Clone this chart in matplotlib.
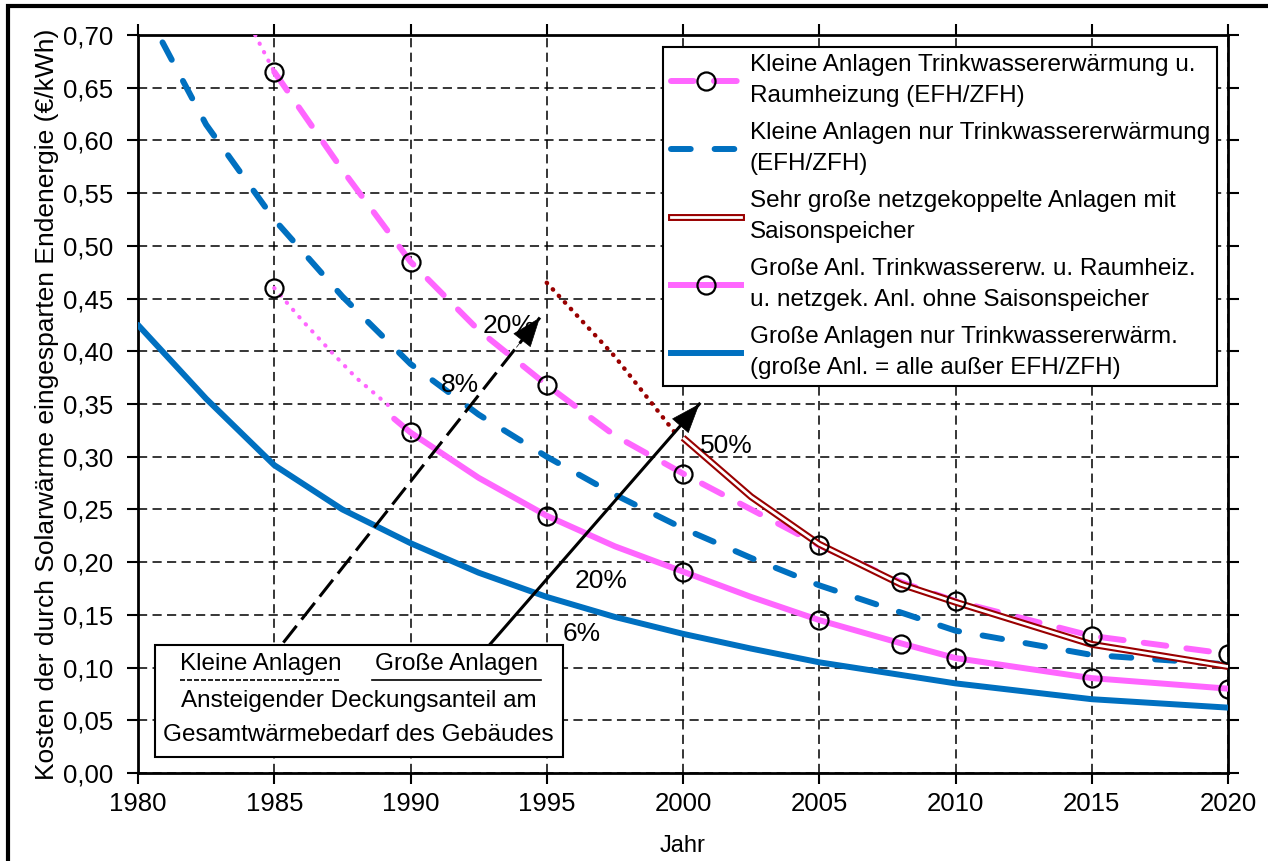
import matplotlib
matplotlib.use("Agg")
import matplotlib.pyplot as plt
from matplotlib.lines import Line2D
from matplotlib.patches import Rectangle
from matplotlib.legend_handler import HandlerTuple

plt.rcParams['font.family'] = ['Liberation Sans', 'DejaVu Sans']

# ---------------- data ----------------
# Kleine Anlagen Trinkwassererwärmung u. Raumheizung (pink dashed)
kl_tw_rh_dot_x = [1984.3, 1984.6, 1985.0]
kl_tw_rh_dot_y = [0.700, 0.685, 0.665]
kl_tw_rh_x = [1985, 1987.5, 1990, 1992.5, 1995, 1997.5, 2000, 2002.5, 2005, 2008, 2010, 2015, 2020]
kl_tw_rh_y = [0.665, 0.572, 0.485, 0.420, 0.368, 0.320, 0.284, 0.250, 0.216, 0.181, 0.163, 0.130, 0.113]
kl_tw_rh_mark_x = [1985, 1990, 1995, 2000, 2005, 2008, 2010, 2015, 2020]
kl_tw_rh_mark_y = [0.665, 0.485, 0.368, 0.284, 0.216, 0.181, 0.163, 0.130, 0.113]

# Kleine Anlagen nur Trinkwassererwärmung (blue dashed)
kl_tw_x = [1980.9, 1982.5, 1985, 1987.5, 1990, 1992.5, 1995, 1997.5, 2000, 2002.5, 2005, 2010, 2015, 2020]
kl_tw_y = [0.693, 0.615, 0.525, 0.452, 0.388, 0.340, 0.300, 0.264, 0.232, 0.204, 0.178, 0.135, 0.112, 0.103]

# Sehr große netzgekoppelte Anlagen mit Saisonspeicher (dark red)
sg_dot_x = [1995, 1997.5, 1999.7]
sg_dot_y = [0.465, 0.395, 0.323]
sg_x = [2000, 2002.5, 2005, 2008, 2010, 2015, 2020]
sg_y = [0.318, 0.262, 0.217, 0.179, 0.162, 0.122, 0.101]

# Große Anl. Trinkwassererw. u. Raumheiz. (pink solid)
gr_tw_rh_dot_x = [1985, 1986, 1987, 1988, 1989.4]
gr_tw_rh_dot_y = [0.460, 0.430, 0.402, 0.375, 0.344]
gr_tw_rh_x = [1989.4, 1990, 1992.5, 1995, 1997.5, 2000, 2002.5, 2005, 2008, 2010, 2015, 2020]
gr_tw_rh_y = [0.336, 0.323, 0.280, 0.244, 0.215, 0.191, 0.167, 0.145, 0.123, 0.109, 0.090, 0.080]
gr_tw_rh_mark_x = [1985, 1990, 1995, 2000, 2005, 2008, 2010, 2015, 2020]
gr_tw_rh_mark_y = [0.460, 0.323, 0.244, 0.191, 0.145, 0.122, 0.109, 0.090, 0.080]

# Große Anlagen nur Trinkwassererwärm. (blue solid)
gr_tw_x = [1980, 1982.5, 1985, 1987.5, 1990, 1992.5, 1995, 1997.5, 2000, 2002.5, 2005, 2010, 2015, 2020]
gr_tw_y = [0.425, 0.355, 0.292, 0.250, 0.218, 0.190, 0.167, 0.148, 0.132, 0.118, 0.105, 0.085, 0.070, 0.062]

x_ticks = [1980, 1985, 1990, 1995, 2000, 2005, 2010, 2015, 2020]
y_ticks = [0.00, 0.05, 0.10, 0.15, 0.20, 0.25, 0.30, 0.35, 0.40, 0.45, 0.50, 0.55, 0.60, 0.65, 0.70]
y_ticklabels = ['0,00', '0,05', '0,10', '0,15', '0,20', '0,25', '0,30', '0,35',
                '0,40', '0,45', '0,50', '0,55', '0,60', '0,65', '0,70']

legend_labels = [
    'Kleine Anlagen Trinkwassererwärmung u.\nRaumheizung (EFH/ZFH)',
    'Kleine Anlagen nur Trinkwassererwärmung\n(EFH/ZFH)',
    'Sehr große netzgekoppelte Anlagen mit\nSaisonspeicher',
    'Große Anl. Trinkwassererw. u. Raumheiz.\nu. netzgek. Anl. ohne Saisonspeicher',
    'Große Anlagen nur Trinkwassererwärm.\n(große Anl. = alle außer EFH/ZFH)',
]

# annotation arrows (start, end) in data coords
arrow_small = ((1984.0, 0.08), (1994.75, 0.432))
arrow_large = ((1991.5, 0.08), (2000.6, 0.350))
pct_labels = [('8%', 1991.8, 0.368), ('20%', 1993.6, 0.424),
              ('6%', 1996.3, 0.132), ('20%', 1997.0, 0.182), ('50%', 2001.6, 0.310)]

PINK = '#FF66FF'
BLUE = '#0070C0'
DRED = '#990000'

# ---------------- figure ----------------
fig = plt.figure(figsize=(12.68, 8.61), dpi=100)
ax = fig.add_axes([138/1268, 1 - 773/861, (1228-138)/1268, (773-35)/861])

LW = 4.3
PINK_DASH = (0, (3.8, 3.4))
BLUE_DASH = (0, (3.3, 4.0))
# pink dashed
ax.plot(kl_tw_rh_dot_x, kl_tw_rh_dot_y, color=PINK, lw=3.0, ls=(0, (0.1, 2.2)),
        dash_capstyle='round', zorder=3)
ax.plot(kl_tw_rh_x, kl_tw_rh_y, color=PINK, lw=LW, ls=PINK_DASH,
        dash_capstyle='round', zorder=3)
ax.plot(kl_tw_rh_mark_x, kl_tw_rh_mark_y, ls='none', marker='o', ms=13, mfc='none',
        mec='black', mew=1.6, zorder=6)
# blue dashed
ax.plot(kl_tw_x, kl_tw_y, color=BLUE, lw=LW, ls=BLUE_DASH,
        dash_capstyle='round', zorder=3)
# dark red
ax.plot(sg_dot_x, sg_dot_y, color=DRED, lw=3.2, ls=(0, (0.1, 1.9)),
        dash_capstyle='round', zorder=4)
ax.plot(sg_x, sg_y, color=DRED, lw=5.0, solid_capstyle='butt', zorder=4)
ax.plot(sg_x, sg_y, color='white', lw=2.0, solid_capstyle='butt', zorder=4)
# pink solid
ax.plot(gr_tw_rh_dot_x, gr_tw_rh_dot_y, color=PINK, lw=3.0, ls=(0, (0.1, 2.2)),
        dash_capstyle='round', zorder=3)
ax.plot(gr_tw_rh_x, gr_tw_rh_y, color=PINK, lw=LW, solid_capstyle='round', zorder=3)
ax.plot(gr_tw_rh_mark_x, gr_tw_rh_mark_y, ls='none', marker='o', ms=13, mfc='none',
        mec='black', mew=1.6, zorder=6)
# blue solid
ax.plot(gr_tw_x, gr_tw_y, color=BLUE, lw=LW, solid_capstyle='round', zorder=3)

# arrows
HEAD = '-|>,head_length=2.0,head_width=0.75'
(s0, e0) = arrow_small
ax.plot([s0[0], e0[0]], [s0[1], e0[1]], color='black', lw=2.2, ls=(0, (7, 2.6)), zorder=5)
ax.annotate('', xy=e0, xytext=(e0[0] - (e0[0]-s0[0])*0.08, e0[1] - (e0[1]-s0[1])*0.08),
            arrowprops=dict(arrowstyle=HEAD, color='black', lw=0.5, shrinkA=0, shrinkB=0),
            zorder=5)
(s1, e1) = arrow_large
ax.plot([s1[0], e1[0]], [s1[1], e1[1]], color='black', lw=2.2, zorder=5)
ax.annotate('', xy=e1, xytext=(e1[0] - (e1[0]-s1[0])*0.08, e1[1] - (e1[1]-s1[1])*0.08),
            arrowprops=dict(arrowstyle=HEAD, color='black', lw=0.5, shrinkA=0, shrinkB=0),
            zorder=5)
for t, xx, yy in pct_labels:
    ax.text(xx, yy, t, fontsize=19, ha='center', va='center', zorder=5)

# text box
box = Rectangle((1980.62, 0.0152), 1995.6 - 1980.62, 0.1214 - 0.0152, facecolor='white',
                edgecolor='black', lw=1.5, zorder=7)
ax.add_patch(box)
BOXFS = 17.5
ax.text(1984.5, 0.1030, 'Kleine Anlagen', fontsize=BOXFS, ha='center', va='center', zorder=8)
ax.text(1991.7, 0.1030, 'Große Anlagen', fontsize=BOXFS, ha='center', va='center', zorder=8)
ax.plot([1981.55, 1987.45], [0.0885, 0.0885], color='black', lw=1.2, ls=(0, (3, 1.2)), zorder=8)
ax.plot([1988.6, 1994.8], [0.0885, 0.0885], color='black', lw=1.2, zorder=8)
ax.text(1988.1, 0.0683, 'Ansteigender Deckungsanteil am', fontsize=BOXFS, ha='center',
        va='center', zorder=8)
ax.text(1988.1, 0.0360, 'Gesamtwärmebedarf des Gebäudes', fontsize=BOXFS, ha='center',
        va='center', zorder=8)

# axes
ax.set_xlim(1980, 2020)
ax.set_ylim(0, 0.70)
ax.set_xticks(x_ticks)
ax.set_xticklabels([str(v) for v in x_ticks])
ax.set_yticks(y_ticks)
ax.set_yticklabels(y_ticklabels)
ax.tick_params(axis='both', labelsize=18.5, direction='out', length=8, width=1.5,
               colors='black')
ax.tick_params(axis='x', pad=6)
ax.tick_params(axis='y', pad=10)
ax.tick_params(axis='x', which='major', top=True)
ax.tick_params(axis='y', which='major', right=True)
ax.grid(True, color='black', lw=1.1, ls=(0, (6, 3.5)))
ax.set_axisbelow(True)
for sp in ax.spines.values():
    sp.set_linewidth(2.0)
ax.set_xlabel('Jahr', fontsize=17, labelpad=13)
ax.set_ylabel('Kosten der durch Solarwärme eingesparten Endenergie (€/kWh)', fontsize=19,
              labelpad=3)

# legend
h1 = Line2D([], [], color=PINK, lw=LW, ls=PINK_DASH, dash_capstyle='round',
            marker='o', ms=13, mfc='none', mec='black', mew=1.6)
h2 = Line2D([], [], color=BLUE, lw=LW, ls=BLUE_DASH, dash_capstyle='round')
h3 = (Line2D([], [], color=DRED, lw=5.0), Line2D([], [], color='white', lw=2.0))
h4 = Line2D([], [], color=PINK, lw=LW, marker='o', ms=13, mfc='none', mec='black', mew=1.6)
h5 = Line2D([], [], color=BLUE, lw=LW)
leg = ax.legend([h1, h2, h3, h4, h5], legend_labels, loc='upper right',
                bbox_to_anchor=(0.99, 0.984), fontsize=17.5, frameon=True, fancybox=False,
                edgecolor='black', framealpha=1, handlelength=2.9, handletextpad=0.35,
                labelspacing=0.6, borderpad=0.3, borderaxespad=0, numpoints=1,
                handler_map={tuple: HandlerTuple(ndivide=1)})
for t in leg.get_texts():
    t.set_linespacing(1.55)
leg.get_frame().set_linewidth(1.5)
leg.set_zorder(9)

# figure border
fig.patches.append(Rectangle((8/1268, -0.5), 2.0, 0.993 + 0.5, transform=fig.transFigure,
                             fill=False, edgecolor='black', lw=3.0))

fig.savefig('out.png', dpi=100)
